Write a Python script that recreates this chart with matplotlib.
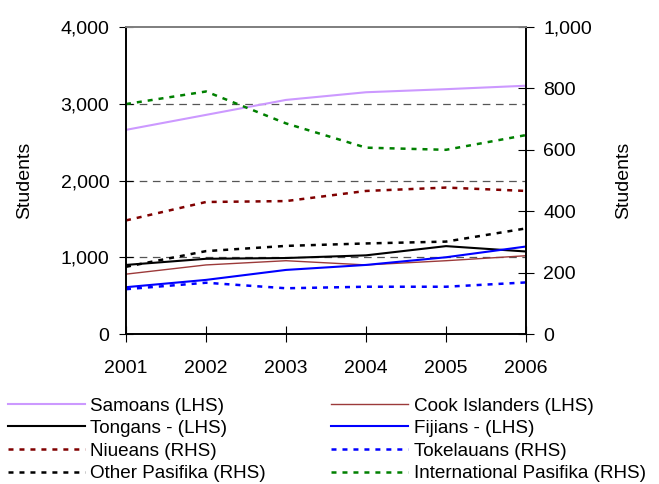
import matplotlib
matplotlib.use('Agg')
import matplotlib.pyplot as plt

plt.rcParams['font.family'] = ['Liberation Sans', 'DejaVu Sans']
plt.rcParams['lines.scale_dashes'] = False
fs = 14

years = [2001, 2002, 2003, 2004, 2005, 2006]

# left axis series
samoans = [2660, 2855, 3050, 3150, 3190, 3235]
cook_islanders = [780, 900, 955, 900, 955, 1020]
tongans = [900, 980, 990, 1025, 1145, 1075]
fijians = [610, 705, 835, 900, 1000, 1140]

# right axis series
niueans = [370, 430, 433, 466, 477, 466]
tokelauans = [146, 167, 149, 154, 154, 168]
other_pasifika = [219, 270, 287, 295, 301, 344]
intl_pasifika = [749, 790, 686, 607, 600, 648]

left_ticks = [0, 1000, 2000, 3000, 4000]
right_ticks = [0, 200, 400, 600, 800, 1000]

dots = (0, (3.6, 4.3))

fig = plt.figure(figsize=(6.59, 4.84), dpi=100)
ax = fig.add_axes([0.1912, 0.3099, 0.607, 0.6343])
ax2 = ax.twinx()

for y in [1000, 2000, 3000]:
    ax.axhline(y, color='#555555', lw=0.9, ls=(0, (5.5, 4)), zorder=0)

l_sam, = ax.plot(years, samoans, color='#cc99ff', lw=1.5)
l_cook, = ax.plot(years, cook_islanders, color='#9c3a3a', lw=1.0)
l_ton, = ax.plot(years, tongans, color='black', lw=1.5)
l_fij, = ax.plot(years, fijians, color='#0000ff', lw=1.5)

l_niu, = ax2.plot(years, niueans, color='#800000', lw=1.8, ls=dots)
l_tok, = ax2.plot(years, tokelauans, color='#0000ff', lw=1.8, ls=dots)
l_oth, = ax2.plot(years, other_pasifika, color='black', lw=1.8, ls=dots)
l_int, = ax2.plot(years, intl_pasifika, color='#008000', lw=1.8, ls=dots)

ax.set_xlim(2001, 2006)
ax.set_ylim(0, 4000)
ax2.set_ylim(0, 1000)
ax.set_xticks(years)
ax.set_yticks(left_ticks)
ax.set_yticklabels([f'{v:,}' for v in left_ticks])
ax2.set_yticks(right_ticks)
ax2.set_yticklabels([f'{v:,}' for v in right_ticks])

ax.tick_params(axis='y', direction='inout', length=10, pad=7, labelsize=fs)
ax.tick_params(axis='x', direction='inout', length=11, pad=13, labelsize=fs)
ax2.tick_params(axis='y', direction='inout', length=11, pad=7, labelsize=fs)

for a in (ax, ax2):
    a.spines['top'].set_color('#808080')
    a.spines['top'].set_linewidth(1.3)
    a.spines['left'].set_linewidth(1.2)
    a.spines['bottom'].set_linewidth(1.2)
    a.spines['right'].set_linewidth(1.2)

ax.set_ylabel('Students', fontsize=fs)
ax2.set_ylabel('Students', fontsize=fs)
ax.yaxis.set_label_coords(-0.2325, 0.5)
ax2.yaxis.set_label_coords(1.2225, 0.5)

handles = [l_sam, l_ton, l_niu, l_oth, l_cook, l_fij, l_tok, l_int]
labels = ['Samoans (LHS)', 'Tongans - (LHS)', 'Niueans (RHS)', 'Other Pasifika (RHS)',
          'Cook Islanders (LHS)', 'Fijians - (LHS)', 'Tokelauans (RHS)',
          'International Pasifika (RHS)']
fig.legend(handles, labels, loc='upper left', bbox_to_anchor=(0.012, 0.179),
           ncol=2, frameon=False, fontsize=13.6, borderpad=0, borderaxespad=0,
           handlelength=4.07, handletextpad=0.3, labelspacing=0.28,
           columnspacing=3.44)

fig.savefig('out.png', dpi=100)
